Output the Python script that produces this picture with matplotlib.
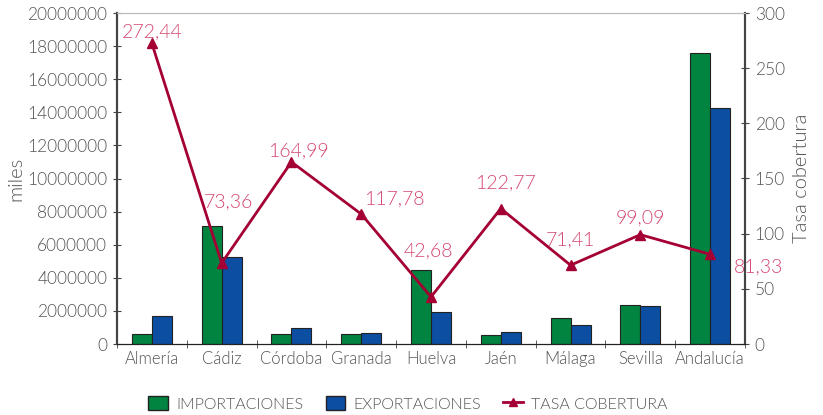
import matplotlib
matplotlib.use("Agg")
import matplotlib.pyplot as plt
import numpy as np
from matplotlib.patches import Patch
from matplotlib.lines import Line2D

plt.rcParams['font.family'] = ['Lato', 'DejaVu Sans']
plt.rcParams['font.weight'] = 300
plt.rcParams['axes.labelweight'] = 300

categories = ["Almería", "Cádiz", "Córdoba", "Granada", "Huelva", "Jaén", "Málaga", "Sevilla", "Andalucía"]
importaciones = [613000, 7130000, 580000, 580000, 4470000, 570000, 1560000, 2330000, 17560000]
exportaciones = [1670000, 5240000, 950000, 680000, 1920000, 700000, 1120000, 2310000, 14280000]
tasa = [272.44, 73.36, 164.99, 117.78, 42.68, 122.77, 71.41, 99.09, 81.33]
tasa_labels = ["272,44", "73,36", "164,99", "117,78", "42,68", "122,77", "71,41", "99,09", "81,33"]
left_ticks = [0, 2000000, 4000000, 6000000, 8000000, 10000000, 12000000, 14000000, 16000000, 18000000, 20000000]
right_ticks = [0, 50, 100, 150, 200, 250, 300]

# label offsets (points) relative to each line point
label_offsets = [(0, 2), (5, 38), (5, 2), (24, 5), (-2, 27), (3, 12), (0, 12), (0, 6), (35, -15)]

GREEN = "#00843f"
BLUE = "#0b4ea2"
RED = "#a50034"
LABEL = "#d4466f"
TXT = "#555555"
SPINE = "#444444"

fig = plt.figure(figsize=(8.23, 4.15), dpi=100)
ax = fig.add_axes([117/823, 1-344/415, (745-117)/823, (344-13)/415])
ax2 = ax.twinx()

x = np.arange(len(categories))
w = 0.287
ax.bar(x - w/2, importaciones, w, color=GREEN, edgecolor="#222222", linewidth=0.8, zorder=2)
ax.bar(x + w/2, exportaciones, w, color=BLUE, edgecolor="#222222", linewidth=0.8, zorder=2)
ax.set_xlim(-0.5, len(categories) - 0.5)
ax.set_ylim(0, 20000000)
ax.set_yticks(left_ticks)
ax.set_yticklabels([str(v) for v in left_ticks])
ax.set_xticks(x)
ax.set_xticklabels(categories)
ax.set_xticks(np.arange(len(categories) + 1) - 0.5, minor=True)
ax.tick_params(axis='x', which='major', length=0, labelsize=12, labelcolor=TXT, pad=5)
ax.tick_params(axis='x', which='minor', length=6, direction='inout', color=SPINE)
ax.tick_params(axis='y', length=6, direction='inout', labelsize=12.5, labelcolor=TXT, color=SPINE, pad=4)
ax.set_ylabel("miles", fontsize=14.5, color=TXT, labelpad=2, fontweight=300)

ax2.set_ylim(0, 300)
ax2.set_yticks(right_ticks)
ax2.plot(x, tasa, color=RED, linewidth=2, marker='^', markersize=7, zorder=5)
for xi, yi, lab, off in zip(x, tasa, tasa_labels, label_offsets):
    ax2.annotate(lab, (xi, yi), xytext=off, textcoords='offset points', ha='center', va='bottom',
                 fontsize=14, color=LABEL, fontweight=300)
ax2.tick_params(axis='y', length=6, direction='inout', labelsize=12.5, labelcolor=TXT, color=SPINE, pad=4)
ax2.set_ylabel("Tasa cobertura", fontsize=14.5, color=TXT, labelpad=6, fontweight=300)

for a in (ax, ax2):
    a.spines['top'].set_color("#bbbbbb")
    a.spines['left'].set_color(SPINE)
    a.spines['right'].set_color(SPINE)
    a.spines['bottom'].set_color("#222222")
    a.spines['left'].set_linewidth(1.5)
    a.spines['right'].set_linewidth(1.5)

handles = [Patch(facecolor=GREEN, edgecolor="#222222", label="IMPORTACIONES"),
           Patch(facecolor=BLUE, edgecolor="#222222", label="EXPORTACIONES"),
           Line2D([0], [0], color=RED, linewidth=2, marker='^', markersize=6, label="TASA COBERTURA")]
fig.legend(handles=handles, loc='center', bbox_to_anchor=(408/823, 1-404/415), ncol=3, frameon=False,
           labelcolor=TXT, handlelength=1.25, handleheight=0.9, columnspacing=1.4,
           handletextpad=0.5, prop={'weight': 300, 'size': 11.5})

fig.savefig("out.png", dpi=100)
